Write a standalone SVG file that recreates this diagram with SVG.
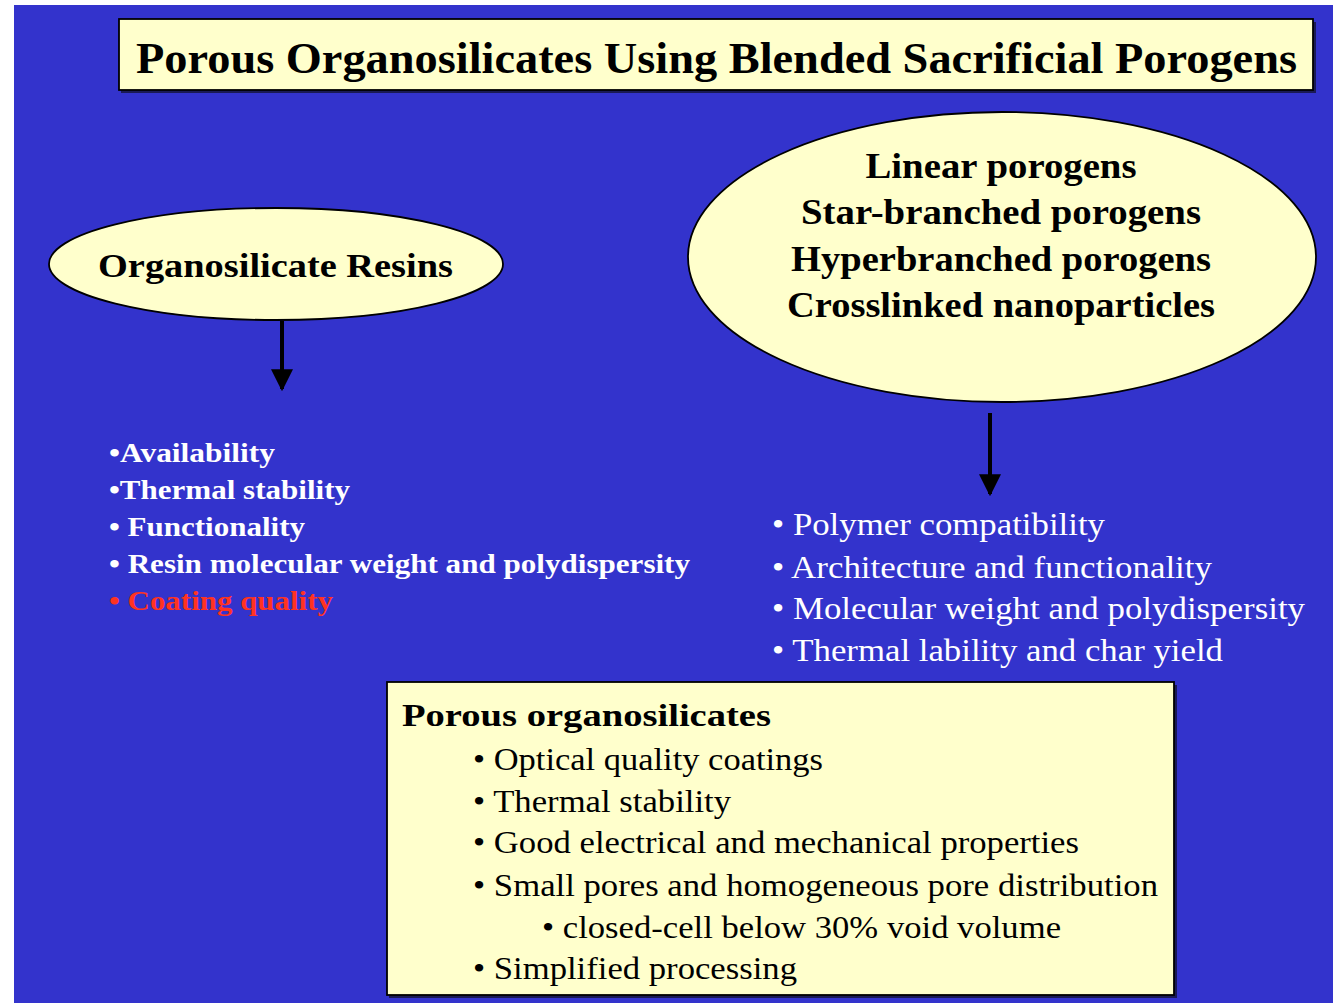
<svg xmlns="http://www.w3.org/2000/svg" width="1333" height="1003" viewBox="0 0 1333 1003">
  <style>
    .panel { fill: #FFFFCC; stroke: #000; stroke-width: 1.8; }
    .shadow { fill: #1a1a55; }
    .serif { font-family: "Liberation Serif", "Times New Roman", Times, serif; }
    .bold { font-weight: bold; }
    .ink { fill: #000; }
    .white { fill: #FFFFFF; }
    .red { fill: #FF3322; }
    .conn { stroke: #000; stroke-width: 4; fill: none; }
  </style>
  <defs>
    <marker id="head" viewBox="0 0 10 10" refX="9" refY="5" markerWidth="5.5" markerHeight="5.5" markerUnits="strokeWidth" orient="auto">
      <path d="M0,0 L10,5 L0,10 Z" fill="#000"/>
    </marker>
  </defs>

  <!-- page -->
  <rect x="0" y="0" width="1333" height="1003" fill="#FFFFFF"/>
  <rect x="14" y="5" width="1319" height="998" fill="#3333CC"/>

  <g font-family="Liberation Serif, serif">
  <!-- title banner -->
  <g id="title">
    <rect class="shadow" x="121" y="22" width="1195" height="71"/>
    <rect class="panel" x="119" y="19" width="1194" height="71"/>
    <text class="serif bold ink" x="136" y="73" font-size="44" textLength="1161" lengthAdjust="spacingAndGlyphs">Porous Organosilicates Using Blended Sacrificial Porogens</text>
  </g>

  <!-- resin node -->
  <g id="resins">
    <ellipse class="panel" cx="276" cy="264" rx="227" ry="56"/>
    <text class="serif bold ink" x="98" y="277" font-size="34" textLength="355" lengthAdjust="spacingAndGlyphs">Organosilicate Resins</text>
  </g>

  <!-- porogen node -->
  <g id="porogens">
    <ellipse class="panel" cx="1002" cy="257" rx="314" ry="145"/>
    <g class="serif bold ink" font-size="36" text-anchor="middle">
      <text x="1001" y="178" textLength="271" lengthAdjust="spacingAndGlyphs">Linear porogens</text>
      <text x="1001" y="224" textLength="400" lengthAdjust="spacingAndGlyphs">Star-branched porogens</text>
      <text x="1001" y="271" textLength="420" lengthAdjust="spacingAndGlyphs">Hyperbranched porogens</text>
      <text x="1001" y="317" textLength="428" lengthAdjust="spacingAndGlyphs">Crosslinked nanoparticles</text>
    </g>
  </g>

  <!-- resin requirements -->
  <g id="resin-list" class="serif bold" font-size="27">
    <text class="white" x="109" y="462" textLength="166" lengthAdjust="spacingAndGlyphs">•Availability</text>
    <text class="white" x="109" y="499" textLength="241" lengthAdjust="spacingAndGlyphs">•Thermal stability</text>
    <text class="white" x="109" y="536" textLength="196" lengthAdjust="spacingAndGlyphs">• Functionality</text>
    <text class="white" x="109" y="573" textLength="581" lengthAdjust="spacingAndGlyphs">• Resin molecular weight and polydispersity</text>
    <text class="red" x="109" y="610" textLength="224" lengthAdjust="spacingAndGlyphs">• Coating quality</text>
  </g>

  <!-- porogen requirements -->
  <g id="porogen-list" class="serif white" font-size="31">
    <text x="772" y="535" textLength="333" lengthAdjust="spacingAndGlyphs">• Polymer compatibility</text>
    <text x="772" y="578" textLength="440" lengthAdjust="spacingAndGlyphs">• Architecture and functionality</text>
    <text x="772" y="619" textLength="533" lengthAdjust="spacingAndGlyphs">• Molecular weight and polydispersity</text>
    <text x="772" y="661" textLength="451" lengthAdjust="spacingAndGlyphs">• Thermal lability and char yield</text>
  </g>

  <!-- result box -->
  <g id="result">
    <rect class="shadow" x="389" y="685" width="788" height="313"/>
    <rect class="panel" x="387" y="682" width="787" height="313"/>
    <text class="serif bold ink" x="402" y="726" font-size="32" textLength="369" lengthAdjust="spacingAndGlyphs">Porous organosilicates</text>
    <g class="serif ink" font-size="31">
      <text x="473" y="770" textLength="350" lengthAdjust="spacingAndGlyphs">• Optical quality coatings</text>
      <text x="473" y="812" textLength="258" lengthAdjust="spacingAndGlyphs">• Thermal stability</text>
      <text x="473" y="853" textLength="606" lengthAdjust="spacingAndGlyphs">• Good electrical and mechanical properties</text>
      <text x="473" y="896" textLength="685" lengthAdjust="spacingAndGlyphs">• Small pores and homogeneous pore distribution</text>
      <text x="542" y="938" textLength="519" lengthAdjust="spacingAndGlyphs">• closed-cell below 30% void volume</text>
      <text x="473" y="979" textLength="324" lengthAdjust="spacingAndGlyphs">• Simplified processing</text>
    </g>
  </g>
  </g>

  <!-- connectors -->
  <g id="connectors">
    <line class="conn" x1="282" y1="321" x2="282" y2="389" marker-end="url(#head)"/>
    <line class="conn" x1="990" y1="413" x2="990" y2="494" marker-end="url(#head)"/>
  </g>
</svg>
